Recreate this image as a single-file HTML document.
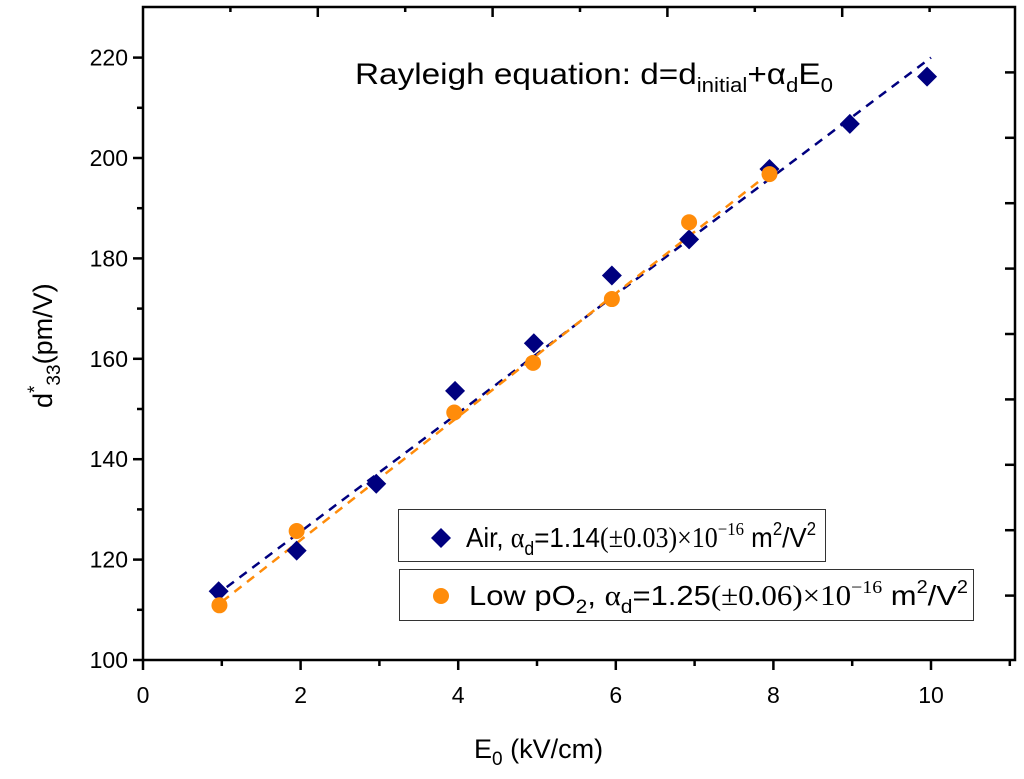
<!DOCTYPE html>
<html><head><meta charset="utf-8"><style>
body{margin:0;background:#fff;}
svg{display:block;font-family:"Liberation Sans",Arial,sans-serif;}
</style></head><body>
<svg id="chart" width="1024" height="779" viewBox="0 0 1024 779">
<g id="axes"></g>
<g id="marks"></g>
<text x="355" y="84" font-size="30" textLength="478" lengthAdjust="spacingAndGlyphs">Rayleigh equation: d=d<tspan font-size="20" dy="8">initial</tspan><tspan dy="-8">+α</tspan><tspan font-size="20" dy="8">d</tspan><tspan dy="-8">E</tspan><tspan font-size="20" dy="8">0</tspan></text>
<text x="474" y="758" font-size="27">E<tspan font-size="19" dy="7">0</tspan><tspan dy="-7"> (kV/cm)</tspan></text>
<g transform="translate(52,338) rotate(-90)"><text x="-70" y="0" font-size="27">d<tspan font-size="19" dy="-11">*</tspan><tspan font-size="19" dy="19">33</tspan><tspan dy="-8">(pm/V)</tspan></text></g>
<g>
<rect x="398.5" y="509.5" width="427" height="52" fill="#fff" stroke="#333" stroke-width="1"/>
<path d="M441 528 L451 538 L441 548 L431 538 Z" fill="#00007f"/>
<text x="466" y="547" font-size="28" textLength="350" lengthAdjust="spacingAndGlyphs">Air, <tspan font-family="Liberation Serif">α</tspan><tspan font-size="19" dy="8">d</tspan><tspan dy="-8">=1.14</tspan><tspan font-family="Liberation Serif">(±0.03)×10</tspan><tspan font-family="Liberation Serif" font-size="18" dy="-12">−16</tspan><tspan dy="12"> m</tspan><tspan font-size="18" dy="-12">2</tspan><tspan dy="12">/V</tspan><tspan font-size="18" dy="-12">2</tspan></text>
</g>
<g>
<rect x="399.5" y="569.5" width="574" height="51" fill="#fff" stroke="#333" stroke-width="1"/>
<circle cx="441" cy="596" r="8" fill="#ff8c0a"/>
<text x="469" y="605" font-size="28" textLength="499" lengthAdjust="spacingAndGlyphs">Low pO<tspan font-size="19" dy="8">2</tspan><tspan dy="-8">, </tspan><tspan font-family="Liberation Serif">α</tspan><tspan font-size="19" dy="8">d</tspan><tspan dy="-8">=1.25</tspan><tspan font-family="Liberation Serif">(±0.06)×10</tspan><tspan font-family="Liberation Serif" font-size="18" dy="-12">−16</tspan><tspan dy="12"> m</tspan><tspan font-size="18" dy="-12">2</tspan><tspan dy="12">/V</tspan><tspan font-size="18" dy="-12">2</tspan></text>
</g>
</svg>
<script>
const xTicks = [0,2,4,6,8,10];
const yTicks = [100,120,140,160,180,200,220];
const airX = [0.96,1.95,2.96,3.96,4.96,5.95,6.93,7.95,8.97,9.95];
const airY = [113.7,121.8,135.1,153.6,163.1,176.6,183.8,197.8,206.8,216.2];
const lowX = [0.97,1.95,3.95,4.95,5.95,6.93,7.95];
const lowY = [110.9,125.7,149.3,159.2,171.9,187.2,196.8];
const airFitX = [0.9,10.0];
const airFitY = [112.6,220.0];
const lowFitX = [1.0,8.0];
const lowFitY = [111.6,197.6];

const NS='http://www.w3.org/2000/svg';
const X0=143, XS=78.8, Y0=660, YS=5.02, L=143, R=1015, T=7, B=660;
const sx=v=>X0+v*XS, sy=v=>Y0-(v-100)*YS;
function mk(tag,attrs,parent){const e=document.createElementNS(NS,tag);for(const k in attrs)e.setAttribute(k,attrs[k]);parent.appendChild(e);return e;}
const ax=document.getElementById('axes'), mg=document.getElementById('marks');

const frame=mk('rect',{x:L,y:T,width:R-L,height:B-T,fill:'none',stroke:'#000','stroke-width':2.5},ax);


xTicks.forEach(t=>{
  const x=sx(t);
  const l=mk('line',{x1:x,x2:x,y1:B,y2:B+10,stroke:'#000','stroke-width':2.5},ax);
  
  
  const m=mk('line',{x1:sx(t+1),x2:sx(t+1),y1:B,y2:B+6,stroke:'#000','stroke-width':2.5},ax);
  
  
  const tx=mk('text',{x:x,y:B+43,'font-size':23,'text-anchor':'middle'},ax);
  tx.textContent=t;
  
  
});
yTicks.forEach(t=>{
  const y=sy(t);
  const l=mk('line',{x1:L-10,x2:L,y1:y,y2:y,stroke:'#000','stroke-width':2.5},ax);
  
  
  if(t<220){const m=mk('line',{x1:L-6,x2:L,y1:sy(t+10),y2:sy(t+10),stroke:'#000','stroke-width':2.5},ax);
  
  }
  const tx=mk('text',{x:L-15,y:y+8,'font-size':23,'text-anchor':'end'},ax);
  tx.textContent=t;
  
  
});
for(let k=1;k<=9;k++){const x=L+87.4*k;const len=k%2?5:10;
  const l=mk('line',{x1:x,x2:x,y1:T,y2:T+len,stroke:'#000','stroke-width':2.5},ax);
  
  }
for(let k=1;k<=9;k++){const y=T+65.4*k;
  const l=mk('line',{x1:R-10,x2:R,y1:y,y2:y,stroke:'#000','stroke-width':2.5},ax);
  
  }

const fa=mk('line',{x1:sx(airFitX[0]),y1:sy(airFitY[0]),x2:sx(airFitX[1]),y2:sy(airFitY[1]),stroke:'#00007f','stroke-width':2.5,'stroke-dasharray':'9 7'},mg);


const fl=mk('line',{x1:sx(lowFitX[0]),y1:sy(lowFitY[0]),x2:sx(lowFitX[1]),y2:sy(lowFitY[1]),stroke:'#ff8c0a','stroke-width':2.5,'stroke-dasharray':'9 7'},mg);


airX.forEach((v,i)=>{const x=sx(v),y=sy(airY[i]);
  const p=mk('path',{d:`M${x} ${y-10}L${x+10} ${y}L${x} ${y+10}L${x-10} ${y}Z`,fill:'#00007f'},mg);
  
  });
lowX.forEach((v,i)=>{
  const c=mk('circle',{cx:sx(v),cy:sy(lowY[i]),r:8,fill:'#ff8c0a'},mg);
  
  });
</script>
</body></html>
